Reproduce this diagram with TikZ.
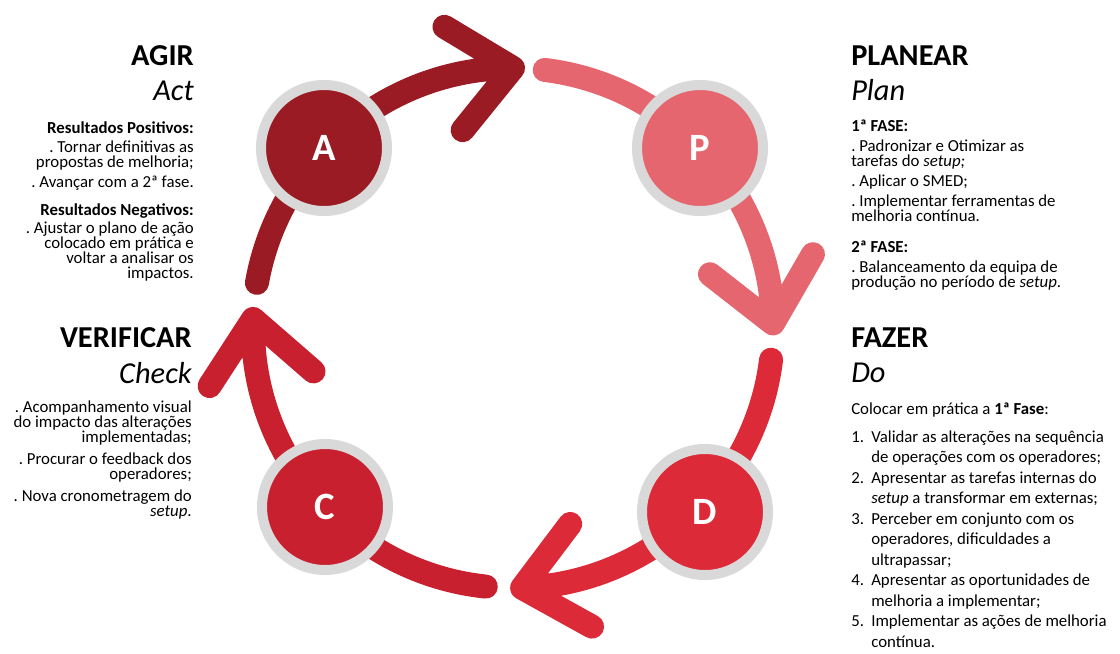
\documentclass[tikz,border=0pt]{standalone}
\usepackage{fontspec}
\setmainfont{Carlito}
\frenchspacing

\definecolor{actred}{HTML}{9B1B24}
\definecolor{planpink}{HTML}{E5666F}
\definecolor{dored}{HTML}{DC2A38}
\definecolor{checkred}{HTML}{C8202F}
\definecolor{ringgray}{HTML}{D9D9D9}

\begin{document}
\begin{tikzpicture}[x=0.75pt,y=-0.75pt,
    phase/.style={circle,draw=ringgray,line width=7.5pt,minimum size=94.5pt,inner sep=0pt,text=white,font=\fontsize{29}{31}\selectfont\bfseries},
    cyclearc/.style={line width=18pt,line cap=round,line join=round},
    phasetitle/.style={inner sep=0pt,font=\fontsize{22.8}{25}\selectfont\bfseries},
    phasesub/.style={inner sep=0pt,font=\fontsize{22.8}{25}\selectfont\itshape},
    phasetext/.style={inner sep=0pt,font=\fontsize{12.6}{11.25}\selectfont},
    steplist/.style={inner sep=0pt,align=left,font=\fontsize{12.6}{15.4}\selectfont}
]
\path[fill=white] (0,0) rectangle (1120,653);
\useasboundingbox (0,0) rectangle (1120,653);

% Arcs of the cycle
\coordinate (hub) at (513,328);
\draw[cyclearc,actred] (hub) ++(-170:260) coordinate (actstart)
    arc[start angle=-170,end angle=-90,radius=260] coordinate (acttip)
    ++(-149:80) -- (acttip) -- ++(129:80);
\draw[cyclearc,planpink] (hub) ++(-83:260) coordinate (planstart)
    arc[start angle=-83,end angle=-1,radius=260] coordinate (plantip)
    ++(-60:80) -- (plantip) -- ++(-142:80);
\draw[cyclearc,dored] (hub) ++(7:260) coordinate (dostart)
    arc[start angle=7,end angle=88,radius=260] coordinate (dotip)
    ++(29:80) -- (dotip) -- ++(-53:80);
\draw[cyclearc,checkred] (hub) ++(96:260) coordinate (checkstart)
    arc[start angle=96,end angle=182,radius=260] coordinate (checktip)
    ++(123:80) -- (checktip) -- ++(41:80);

% Phases
\node[phase,fill=actred] (act) at (324,148) {A};
\node[phase,fill=planpink] (plan) at (700,148) {P};
\node[phase,fill=dored] (do) at (705,512) {D};
\node[phase,fill=checkred] (check) at (325,507) {C};

% Agir
\node[phasetitle,anchor=base east] (agir) at (194,65) {AGIR};
\node[phasesub,anchor=base east] (agirsub) at (194,100) {Act};
\node[phasetext,align=right,anchor=north east] (agirtxt) at (194,121) {%
    \textbf{Resultados Positivos:}\\[3pt]
    . Tornar definitivas as\\
    propostas de melhoria;\\[3.75pt]
    . Avançar com a 2ª fase.\\[9.75pt]
    \textbf{Resultados Negativos:}\\[2.5pt]
    . Ajustar o plano de ação\\
    colocado em prática e\\
    voltar a analisar os\\
    impactos.};

% Planear
\node[phasetitle,anchor=base west] (planear) at (851,65) {PLANEAR};
\node[phasesub,anchor=base west] (planearsub) at (851,100) {Plan};
\node[phasetext,align=left,anchor=north west] (planeartxt) at (851,120) {%
    \textbf{1ª FASE:}\\[3.75pt]
    . Padronizar e Otimizar as\\
    tarefas do \textit{setup;}\\[3.75pt]
    . Aplicar o SMED;\\[3.75pt]
    . Implementar ferramentas de\\
    melhoria contínua.\\[12pt]
    \textbf{2ª FASE:}\\[3.75pt]
    . Balanceamento da equipa de\\
    produção no período de \textit{setup}.};

% Verificar
\node[phasetitle,anchor=base east] (verificar) at (192,347) {VERIFICAR};
\node[phasesub,anchor=base east] (verificarsub) at (192,383) {Check};
\node[phasetext,align=right,anchor=north east] (verificartxt) at (192,401) {%
    . Acompanhamento visual\\
    do impacto das alterações\\
    implementadas;\\[5pt]
    . Procurar o feedback dos\\
    operadores;\\[5pt]
    . Nova cronometragem do\\
    \textit{setup}.};

% Fazer
\node[phasetitle,anchor=base west] (fazer) at (851,347) {FAZER};
\node[phasesub,anchor=base west] (fazersub) at (851,382) {Do};
\node[steplist,anchor=north west] (fazertxt) at (851,403) {%
    Colocar em prática a \textbf{1ª Fase}:\\[4.9pt]
    \makebox[15pt][l]{1.}Validar as alterações na sequência\\
    \hspace*{15pt}de operações com os operadores;\\
    \makebox[15pt][l]{2.}Apresentar as tarefas internas do\\
    \hspace*{15pt}\textit{setup} a transformar em externas;\\
    \makebox[15pt][l]{3.}Perceber em conjunto com os\\
    \hspace*{15pt}operadores, dificuldades a\\
    \hspace*{15pt}ultrapassar;\\
    \makebox[15pt][l]{4.}Apresentar as oportunidades de\\
    \hspace*{15pt}melhoria a implementar;\\
    \makebox[15pt][l]{5.}Implementar as ações de melhoria\\
    \hspace*{15pt}contínua.};

\end{tikzpicture}
\end{document}
